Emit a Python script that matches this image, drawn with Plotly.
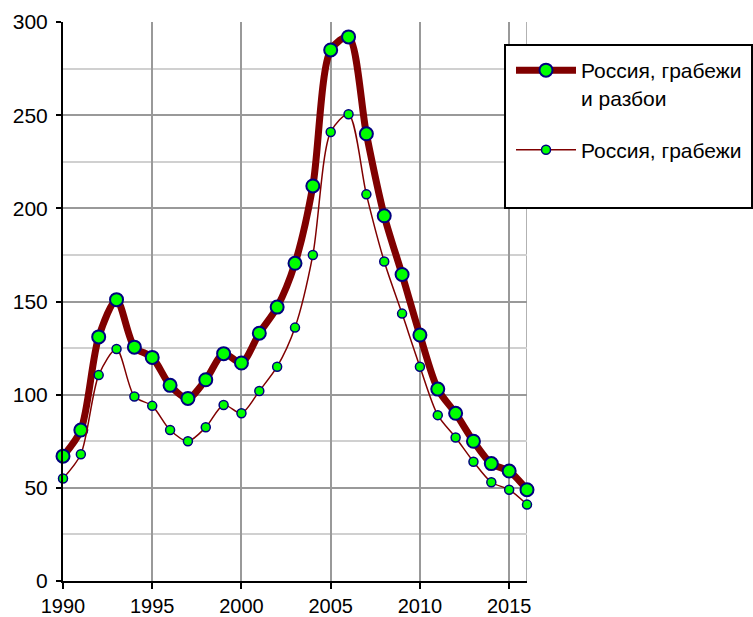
import plotly.graph_objects as go

years = list(range(1990, 2017))
robbery_and_assault = [67, 81, 131, 151, 125.5, 120, 105, 98, 108, 122, 117, 133, 147, 170.5,
                       212, 285, 292, 240, 196, 164.5, 132, 103, 90, 75, 63, 59, 49]
robbery = [55, 68, 110.5, 124.5, 99, 94, 81, 75, 82.5, 94.5, 90, 102, 115, 136,
           175, 241, 250.5, 207.5, 171.5, 143.5, 115, 89, 77, 64, 53, 49, 41]
name_1 = "Россия, грабежи<br>и разбои"
name_2 = "Россия, грабежи"

x_ticks = [1990, 1995, 2000, 2005, 2010, 2015]
y_ticks = [0, 50, 100, 150, 200, 250, 300]

LINE = "#800000"
MFILL = "#00FF00"
MEDGE = "#000080"
FONT = "Liberation Sans, Arial, sans-serif"
FS = 21

FIG_W, FIG_H = 753, 617
# plot area in page pixels
PL, PR, PT, PB = 63, 527, 22, 581
W, H = PR - PL, PB - PT


def px(xp):
    return (xp - PL) / W


def py(yp):
    return (PB - yp) / H


fig = go.Figure()
fig.add_trace(go.Scatter(
    x=years, y=robbery_and_assault, name=name_1, mode="lines+markers",
    line=dict(color=LINE, width=7, shape="spline", smoothing=0.8),
    marker=dict(size=13, color=MFILL, line=dict(color=MEDGE, width=2)),
    cliponaxis=False, legendgroup="a"))
fig.add_trace(go.Scatter(
    x=years, y=robbery, name=name_2, mode="lines+markers",
    line=dict(color=LINE, width=1.5, shape="spline", smoothing=0.8),
    marker=dict(size=9, color=MFILL, line=dict(color=MEDGE, width=1.5)),
    cliponaxis=False, legendgroup="b"))

fig.update_layout(
    width=FIG_W, height=FIG_H,
    margin=dict(l=PL, r=FIG_W - PR, t=PT, b=FIG_H - PB, autoexpand=False),
    paper_bgcolor="white", plot_bgcolor="white",
    font=dict(family=FONT, size=FS, color="black"),
    showlegend=True,
    legend=dict(x=px(511), y=py(50), xanchor="left", yanchor="top",
                bgcolor="rgba(0,0,0,0)", borderwidth=0, valign="top",
                tracegroupgap=22, itemwidth=60,
                font=dict(family=FONT, size=FS, color="black")),
    xaxis=dict(range=[1990, 2016], tickvals=x_ticks, showgrid=True, automargin=False,
               gridcolor="#999999", gridwidth=1.5, showline=True, linecolor="black",
               linewidth=2, ticks="outside", ticklen=6, tickwidth=1.5, tickcolor="black",
               zeroline=False, tickfont=dict(size=20), ticklabelstandoff=0),
    yaxis=dict(range=[0, 300], tickvals=y_ticks, showgrid=True, automargin=False,
               gridcolor="#999999", gridwidth=1.5, showline=True, linecolor="black",
               linewidth=2, ticks="outside", ticklen=5, tickwidth=1.5, tickcolor="black",
               zeroline=False, tickfont=dict(size=FS), ticklabelstandoff=4,
               minor=dict(dtick=25, showgrid=True, gridcolor="#d0d0d0", gridwidth=1.5,
                          ticks="")),
    shapes=[
        dict(type="line", xref="x", yref="paper", x0=2016, x1=2016, y0=0, y1=1,
             line=dict(color="#999999", width=1.5), layer="below"),
        dict(type="rect", xref="paper", yref="paper",
             x0=px(505), x1=px(752), y0=py(208), y1=py(45),
             fillcolor="white", line=dict(color="black", width=2), layer="above"),
    ],
)

fig.write_html(
    "out.html",
    config={"displayModeBar": False},
    post_script="document.body.style.margin='0';",
)
